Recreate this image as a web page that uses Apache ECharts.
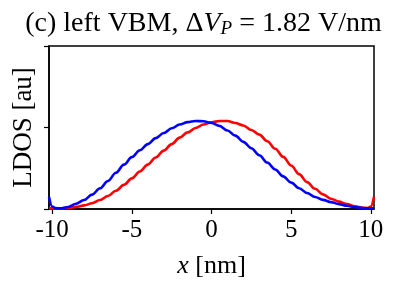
<!DOCTYPE html>
<html><head><meta charset="utf-8">
<script src="https://cdn.jsdelivr.net/npm/echarts@6/dist/echarts.min.js"></script>
<style>html,body{margin:0;padding:0;background:#fff}#c{width:407px;height:291px}</style>
</head><body><div id="c"></div>
<script>
const xNm = [-10.2,-10,-9.8,-9.5,-9,-8.5,-8,-7.5,-7,-6.5,-6,-5.5,-5,-4.5,-4,-3.5,-3,-2.5,-2,-1.5,-1,-0.5,0,0.5,1,1.5,2,2.5,3,3.5,4,4.5,5,5.5,6,6.5,7,7.5,8,8.5,9,9.5,9.8,10,10.2];
const blueLDOS = [0.075,0.015,0.006,0.004,0.012,0.032,0.055,0.088,0.127,0.172,0.222,0.272,0.318,0.36,0.398,0.435,0.466,0.495,0.518,0.533,0.54,0.538,0.528,0.51,0.482,0.45,0.412,0.373,0.33,0.285,0.242,0.2,0.162,0.127,0.098,0.074,0.056,0.042,0.03,0.02,0.012,0.006,0.004,0.004,0.005];
const redLDOS  = [0.005,0.004,0.004,0.004,0.007,0.013,0.022,0.035,0.055,0.08,0.112,0.148,0.188,0.23,0.272,0.316,0.358,0.398,0.438,0.47,0.497,0.518,0.532,0.54,0.54,0.528,0.512,0.485,0.456,0.416,0.37,0.32,0.267,0.214,0.165,0.124,0.09,0.063,0.045,0.03,0.016,0.008,0.006,0.015,0.075];
const xTicks = [-10,-5,0,5,10];
const yTicks = [0,0.5,1];

const font = 'Liberation Serif';
const chart = echarts.init(document.getElementById('c'), null, {renderer:'canvas'});
chart.setOption({
  animation:false,
  backgroundColor:'#fff',
  title:{
    text:'(c) left VBM, Δ{i|V}{s|P} = 1.82 V/nm',
    left:'center', top:4,
    textStyle:{fontFamily:font,fontSize:28,fontWeight:'normal',color:'#000',
      rich:{
        i:{fontFamily:font,fontSize:28,fontStyle:'italic',color:'#000'},
        s:{fontFamily:font,fontSize:19,fontStyle:'italic',color:'#000',verticalAlign:'bottom',padding:[10,0,0,0]}}}
  },
  grid:{left:49,top:46,right:33,bottom:82,show:true,borderColor:'#000',borderWidth:1.5,backgroundColor:'transparent'},
  xAxis:{type:'value',min:-10.2,max:10.2,
    name:'{i|x} [nm]',nameLocation:'middle',nameGap:44,
    nameTextStyle:{fontFamily:font,fontSize:26,color:'#000',
      rich:{i:{fontFamily:font,fontSize:26,fontStyle:'italic',color:'#000'}}},
    axisLine:{show:true,onZero:false,lineStyle:{color:'#000',width:1.5}},
    axisTick:{show:true,length:5,lineStyle:{color:'#000',width:1.2},customValues:xTicks},
    axisLabel:{fontFamily:font,fontSize:25,color:'#000',margin:9,customValues:xTicks},
    splitLine:{show:false}},
  yAxis:{type:'value',min:0,max:1,
    name:'LDOS [au]',nameLocation:'middle',nameGap:12,
    nameTextStyle:{fontFamily:font,fontSize:27,color:'#000'},
    axisLine:{show:true,onZero:false,lineStyle:{color:'#000',width:1.5}},
    axisTick:{show:true,length:5,lineStyle:{color:'#000',width:1.2},customValues:yTicks},
    axisLabel:{show:false},
    splitLine:{show:false}},
  series:[
    {type:'line',data:xNm.map((x,i)=>[x,redLDOS[i]]),smooth:0.35,smoothMonotone:'x',showSymbol:false,lineStyle:{color:'#ff0000',width:2.6},clip:true},
    {type:'line',data:xNm.map((x,i)=>[x,blueLDOS[i]]),smooth:0.35,smoothMonotone:'x',showSymbol:false,lineStyle:{color:'#0000ff',width:2.6},clip:true}
  ]
});
</script></body></html>
